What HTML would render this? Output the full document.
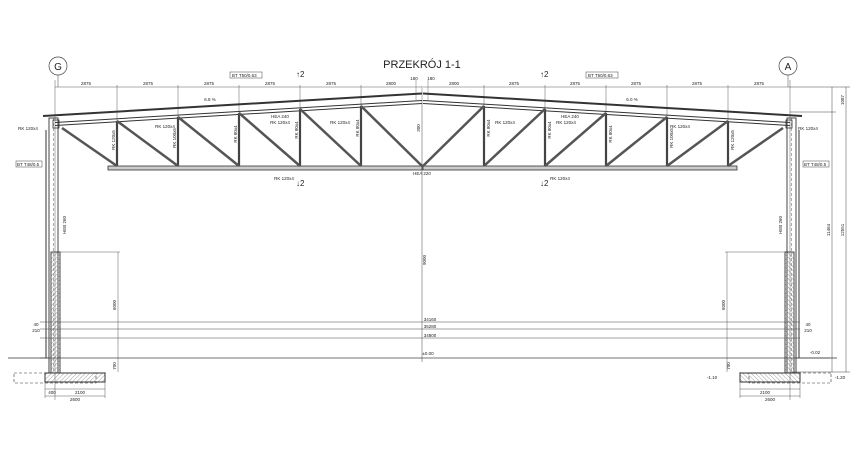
<!DOCTYPE html>
<html><head><meta charset="utf-8"><style>
html,body{margin:0;padding:0;background:#fff}
svg{display:block}
text{font-family:"Liberation Sans",sans-serif;fill:#222}
.s{font-size:4.5px}
</style></head><body>
<svg width="860" height="449" viewBox="0 0 860 449" xmlns="http://www.w3.org/2000/svg">
<defs>
<pattern id="h" width="3" height="3" patternUnits="userSpaceOnUse" patternTransform="rotate(45)"><line x1="0" y1="0" x2="0" y2="3" stroke="#888" stroke-width="0.8"/></pattern>
<g id="half" fill="none" stroke="#333">
  <!-- roof sheet -->
  <line x1="43" y1="116" x2="422" y2="93.5" stroke-width="2"/>
  <!-- top chord -->
  <line x1="55" y1="122.5" x2="422" y2="100.5" stroke-width="1"/>
  <line x1="55" y1="125.5" x2="422" y2="103.5" stroke-width="1"/>
  <!-- bottom chord -->
  <rect x="108" y="166" width="314" height="4" fill="#ccc" stroke-width="0.8"/>
  <!-- verticals -->
  <g stroke-width="2.2" stroke="#444">
    <line x1="117" y1="121" x2="117" y2="166"/>
    <line x1="178" y1="117" x2="178" y2="166"/>
    <line x1="239" y1="113" x2="239" y2="166"/>
    <line x1="300" y1="109" x2="300" y2="166"/>
    <line x1="361" y1="106" x2="361" y2="166"/>
  </g>
  <!-- diagonals -->
  <g stroke-width="2.5" stroke="#555">
    <line x1="62" y1="128" x2="117" y2="166"/>
    <line x1="117" y1="121" x2="178" y2="166"/>
    <line x1="178" y1="117" x2="239" y2="166"/>
    <line x1="239" y1="113" x2="300" y2="166"/>
    <line x1="300" y1="109" x2="361" y2="166"/>
    <line x1="361" y1="106" x2="422" y2="166"/>
  </g>
  <!-- column -->
  <rect x="49" y="118" width="9" height="255" stroke-width="0.9"/>
  <line x1="53.5" y1="118" x2="53.5" y2="373" stroke-width="0.4" stroke-dasharray="3 2"/>
  <rect x="53" y="120" width="6" height="8" stroke-width="0.8"/>
  <!-- cladding -->
  <line x1="46" y1="130" x2="46" y2="358" stroke-width="1"/>
  <!-- concrete wall -->
  <rect x="51" y="252" width="9" height="121" fill="url(#h)" stroke-width="0.9"/>
  <!-- footing -->
  <rect x="45" y="373" width="60" height="9" fill="url(#h)" stroke-width="1"/>
  <rect x="14" y="373" width="82" height="10" stroke-width="0.6" stroke-dasharray="3 2"/>
  <!-- ground -->
  <line x1="8" y1="358" x2="50" y2="358" stroke-width="0.8"/>
  <!-- dims -->
  <g stroke-width="0.4">
    <line x1="55" y1="87" x2="422" y2="87"/>
    <line x1="55" y1="80" x2="55" y2="400"/>
    <line x1="117" y1="85" x2="117" y2="121"/><line x1="178" y1="85" x2="178" y2="117"/>
    <line x1="239" y1="85" x2="239" y2="113"/><line x1="300" y1="85" x2="300" y2="109"/>
    <line x1="361" y1="85" x2="361" y2="106"/>
    <line x1="60" y1="252" x2="120" y2="252"/>
    <line x1="118" y1="252" x2="118" y2="372"/>
    <line x1="45" y1="389" x2="105" y2="389"/><line x1="45" y1="396" x2="105" y2="396"/>
    <line x1="105" y1="372" x2="105" y2="398"/><line x1="45" y1="382" x2="45" y2="398"/>
  </g>
</g>
</defs>
<use href="#half"/>
<g transform="matrix(-1,0,0,1,845,0)"><use href="#half"/></g>
<g fill="none" stroke="#444" stroke-width="0.5">
  <line x1="422" y1="100" x2="422" y2="362"/>
  <line x1="40" y1="322" x2="800" y2="322"/>
  <line x1="40" y1="329" x2="800" y2="329"/>
  <line x1="40" y1="338" x2="800" y2="338"/>
  <line x1="40" y1="358" x2="830" y2="358" stroke-width="0.8"/>
  <line x1="422" y1="86" x2="422" y2="101" stroke-width="0.4"/>
  <line x1="416" y1="80" x2="416" y2="100" stroke-width="0.4"/>
  <line x1="428" y1="80" x2="428" y2="100" stroke-width="0.4"/>
  <line x1="832" y1="87" x2="832" y2="372"/>
  <line x1="846" y1="87" x2="846" y2="372"/>
  <line x1="790" y1="87" x2="850" y2="87"/>
  <line x1="790" y1="112" x2="836" y2="112"/>
  <line x1="790" y1="372" x2="850" y2="372"/>
  <circle cx="58" cy="66" r="9" stroke-width="0.7"/>
  <circle cx="788" cy="66" r="9" stroke-width="0.7"/>
  <line x1="58" y1="75" x2="58" y2="87"/><line x1="788" y1="75" x2="788" y2="87"/>
  <rect x="230" y="72" width="32" height="6"/><rect x="586" y="72" width="32" height="6"/>
  <rect x="16" y="161" width="26" height="6"/><rect x="803" y="161" width="26" height="6"/>
</g>
<text x="58" y="70" font-size="10" text-anchor="middle">G</text>
<text x="788" y="70" font-size="10" text-anchor="middle">A</text>
<text x="422" y="68" font-size="11" text-anchor="middle">PRZEKRÓJ 1-1</text>
<text x="232" y="77" class="s">BT T50/0.63</text><text x="588" y="77" class="s">BT T50/0.63</text>
<text x="17" y="166" class="s">BT T48/0.5</text><text x="804" y="166" class="s">BT T48/0.5</text>
<text x="296" y="77" font-size="8">↑2</text><text x="540" y="77" font-size="8">↑2</text>
<text x="296" y="186" font-size="8">↓2</text><text x="540" y="186" font-size="8">↓2</text>
<g class="s" text-anchor="middle">
<text x="86" y="85">2875</text><text x="148" y="85">2875</text><text x="209" y="85">2875</text><text x="270" y="85">2875</text><text x="331" y="85">2875</text><text x="391" y="85">2800</text>
<text x="759" y="85">2875</text><text x="697" y="85">2875</text><text x="636" y="85">2875</text><text x="575" y="85">2875</text><text x="514" y="85">2875</text><text x="454" y="85">2800</text>
<text x="414" y="80">180</text><text x="431" y="80">180</text>
<text x="210" y="101">6.8 %</text><text x="632" y="101">6.0 %</text>
<text x="280" y="118">HEA 240</text><text x="570" y="118">HEA 240</text>
<text x="422" y="175">HEA 220</text>
<text x="280" y="124">RK 120x4</text><text x="340" y="124">RK 120x4</text>
<text x="505" y="124">RK 120x4</text><text x="566" y="124">RK 120x4</text>
<text x="165" y="128">RK 120x4</text><text x="680" y="128">RK 120x4</text>
<text x="28" y="130">RK 120x4</text><text x="808" y="130">RK 120x4</text>
<text x="284" y="180">RK 120x4</text><text x="560" y="180">RK 120x4</text>
<text x="36" y="326">40</text><text x="36" y="332">210</text>
<text x="808" y="326">40</text><text x="808" y="332">210</text>
<text x="430" y="321">34160</text><text x="430" y="328">35280</text><text x="430" y="337">34800</text>
<text x="428" y="355">±0.00</text>
<text x="815" y="354">-0.02</text><text x="712" y="379">-1.10</text><text x="840" y="379">-1.20</text>
<text x="52" y="394">400</text><text x="80" y="394">2100</text><text x="75" y="401">2600</text>
<text x="765" y="394">2100</text><text x="770" y="401">2600</text>
</g>
<g class="s" text-anchor="middle">
<text transform="translate(66,225) rotate(-90)">HEB 260</text>
<text transform="translate(782,225) rotate(-90)">HEB 260</text>
<text transform="translate(116,305) rotate(-90)">6000</text>
<text transform="translate(725,305) rotate(-90)">6000</text>
<text transform="translate(426,260) rotate(-90)">9000</text>
<text transform="translate(830,230) rotate(-90)">11464</text>
<text transform="translate(844,230) rotate(-90)">12551</text>
<text transform="translate(844,100) rotate(-90)">1087</text>
<text transform="translate(116,366) rotate(-90)">700</text>
<text transform="translate(730,366) rotate(-90)">700</text>
<text transform="translate(115,140) rotate(-90)">RK 120x5</text>
<text transform="translate(176,138) rotate(-90)">RK 100x5</text>
<text transform="translate(237,134) rotate(-90)">RK 80x4</text>
<text transform="translate(298,130) rotate(-90)">RK 80x4</text>
<text transform="translate(359,128) rotate(-90)">RK 80x4</text>
<text transform="translate(420,128) rotate(-90)">300</text>
<text transform="translate(734,140) rotate(-90)">RK 120x5</text>
<text transform="translate(673,138) rotate(-90)">RK 100x5</text>
<text transform="translate(612,134) rotate(-90)">RK 80x4</text>
<text transform="translate(551,130) rotate(-90)">RK 80x4</text>
<text transform="translate(490,128) rotate(-90)">RK 80x4</text>
</g>
</svg>
</body></html>
